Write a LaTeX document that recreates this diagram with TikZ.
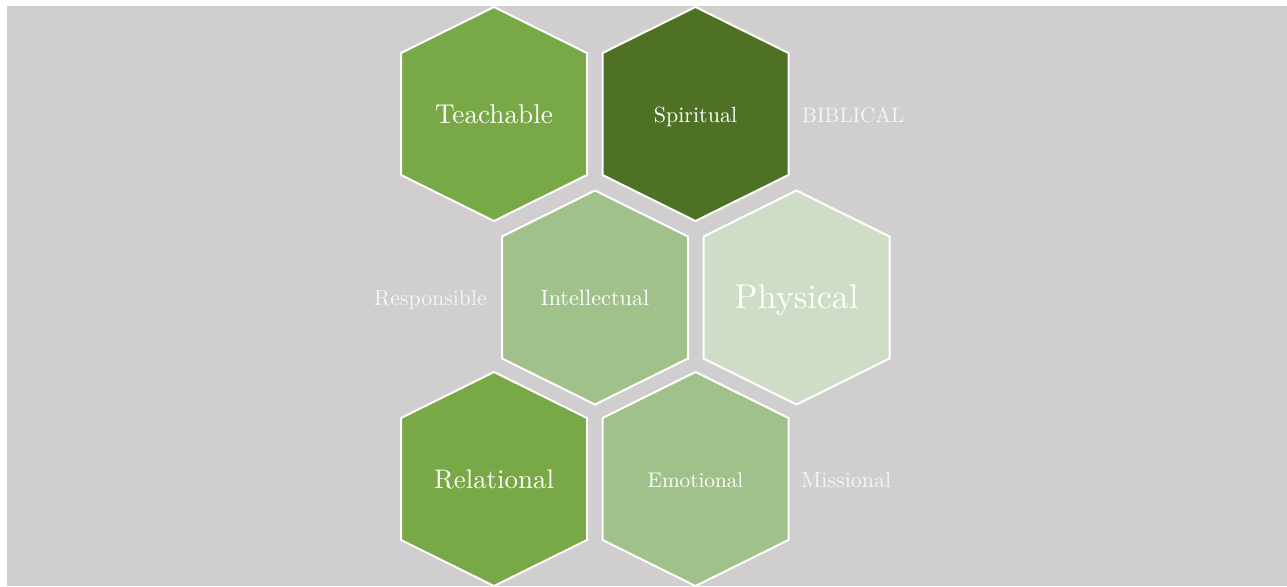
\documentclass[tikz,border=0pt]{standalone}
\usepackage{graphicx}
\usetikzlibrary{calc}
\definecolor{bggray}{HTML}{D0CECE}
\definecolor{gmid}{HTML}{79A847}
\definecolor{gdark}{HTML}{4E7124}
\definecolor{glight}{HTML}{A1C18A}
\definecolor{gpale}{HTML}{CFDCC6}
\definecolor{offwhite}{HTML}{F6F6F6}
\tikzset{
  hexfill/.style={draw=white, line width=2pt, line join=miter},
  hextext/.style={text=white, font=\fontsize{10}{12}\selectfont, inner sep=0pt, anchor=base},
  sidetext/.style={text=offwhite, font=\fontsize{10}{12}\selectfont, inner sep=0pt},
}
\newcommand{\hexpath}{+(0,-107) -- +(-93,-61) -- +(-93,61) -- +(0,107) -- +(93,61) -- +(93,-61) -- cycle}
\newcommand{\hexat}[2]{%
  \fill[#2] (#1) \hexpath;
  \draw[hexfill] (#1) \hexpath;}
\begin{document}
\begin{tikzpicture}[x=1pt,y=-1pt]
\useasboundingbox (0,0) rectangle (1287,586);
\fill[bggray] (7,6) rectangle (1287,586);
\coordinate (cT) at (494,114);
\coordinate (cS) at (695.5,114);
\coordinate (cI) at (595,297.5);
\coordinate (cP) at (796.5,297.5);
\coordinate (cR) at (494,479);
\coordinate (cE) at (695.5,479);
\hexat{cT}{gmid}
\hexat{cS}{gdark}
\hexat{cI}{glight}
\hexat{cP}{gpale}
\hexat{cR}{gmid}
\hexat{cE}{glight}
\node[hextext] (tT) at (494,123) {\scalebox{2.72}{Teachable}};
\node[hextext] (tS) at (695.5,122) {\scalebox{2.2}{Spiritual}};
\node[hextext] (tI) at (595,305) {\scalebox{2.22}{Intellectual}};
\node[hextext] (tP) at (796.5,308) {\scalebox{3.42}{Physical}};
\node[hextext] (tR) at (494,488) {\scalebox{2.69}{Relational}};
\node[hextext] (tE) at (695.5,487) {\scalebox{2.12}{Emotional}};
\node[sidetext, anchor=base west] (lB) at (802,122) {\scalebox{2.1}{BIBLICAL}};
\node[sidetext, anchor=base east] (lRs) at (487,305) {\scalebox{2.18}{Responsible}};
\node[sidetext, anchor=base west] (lM) at (801,487) {\scalebox{2.2}{Missional}};
\end{tikzpicture}
\end{document}
